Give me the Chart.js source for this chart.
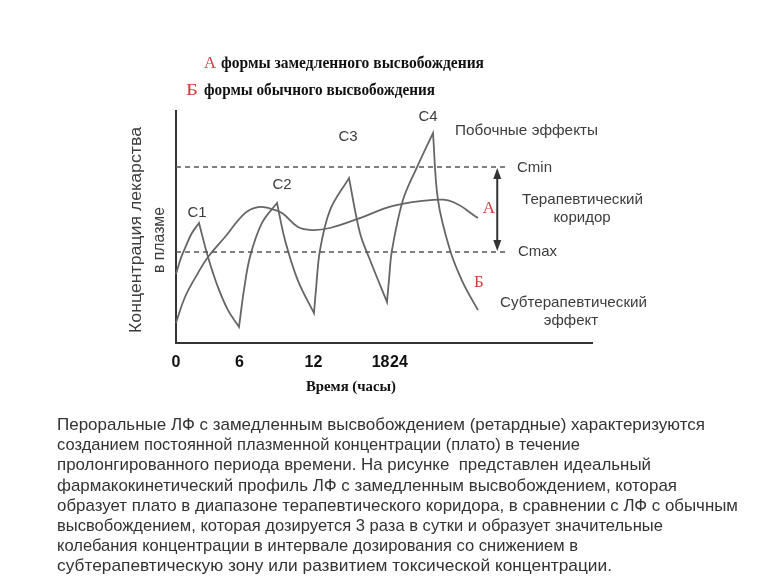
<!DOCTYPE html>
<html>
<head>
<meta charset="utf-8">
<script src="https://cdn.jsdelivr.net/npm/chart.js@4.4.0/dist/chart.umd.min.js"></script>
<style>
html, body { margin: 0; padding: 0; background: #fff; }
#wrap { position: relative; width: 768px; height: 576px; overflow: hidden; }
#chart { position: absolute; left: 0; top: 0; }
#note { position: absolute; left: 57px; top: 415px; font-family: "Liberation Sans Narrow", "Liberation Sans", sans-serif;
        font-size: 17px; line-height: 20.2px; color: #333; white-space: nowrap; }
#note span { display: inline-block; transform-origin: 0 50%; }
</style>
</head>
<body>
<div id="wrap">
  <canvas id="chart" width="768" height="576"></canvas>
  <div id="note">
    <div><span data-r="705">Пероральные ЛФ с замедленным высвобождением (ретардные) характеризуются</span></div>
    <div><span data-r="580">созданием постоянной плазменной концентрации (плато) в течение</span></div>
    <div><span data-r="651">пролонгированного периода времени. На рисунке&nbsp; представлен идеальный</span></div>
    <div><span data-r="677">фармакокинетический профиль ЛФ с замедленным высвобождением, которая</span></div>
    <div><span data-r="738">образует плато в диапазоне терапевтического коридора, в сравнении с ЛФ с обычным</span></div>
    <div><span data-r="663">высвобождением, которая дозируется 3 раза в сутки и образует значительные</span></div>
    <div><span data-r="578">колебания концентрации в интервале дозирования со снижением в</span></div>
    <div><span data-r="612">субтерапевтическую зону или развитием токсической концентрации.</span></div>
  </div>
</div>
<script>
// curve A: slow release form (time in hours, concentration in arbitrary units)
const hoursA = [0, 0.78, 1.9, 2.77, 4.24, 5.97, 7.1, 7.96, 9.17, 10.56, 11.77, 13.33, 15.92, 18.78, 22.24, 23.97, 26.13];
const concA  = [0.87, 2.0, 3.04, 3.74, 4.61, 5.65, 5.91, 5.87, 5.65, 5.04, 4.91, 5.0, 5.43, 5.96, 6.22, 6.13, 5.43];

// curve Б: regular release form, dosed every 6 hours
const hoursB = [0, 0.43, 0.78, 1.38, 1.99, 2.77, 3.63, 4.5, 5.45, 5.88, 6.4, 7.44, 8.74, 9.43, 10.56, 11.94,
                12.11, 12.46, 13.33, 14.97, 15.92, 16.79, 18.26, 18.43, 18.69, 19.64, 20.86, 22.24, 22.67, 23.71, 24.84, 26.13];
const concB  = [3.0, 3.7, 4.13, 4.78, 5.22, 3.74, 2.43, 1.43, 0.7, 2.3, 3.74, 5.22, 6.09, 4.48, 2.7, 1.3,
                2.3, 4.04, 5.78, 7.17, 4.78, 3.61, 1.78, 2.74, 4.04, 6.22, 7.65, 9.13, 6.22, 4.04, 2.61, 1.43];

const cMin = 7.65;
const cMax = 3.96;
const corridorEnd = 28.6;
const arrowHour = 27.8;

const tickHours = [0, 5.5, 11.9, 17.7, 19.3];
const tickLabels = ['0', '6', '12', '18', '24'];

// peaks and troughs of Б are doubled so the spline keeps a sharp corner there
function sawPoints(xs, ys) {
    const pts = [];
    xs.forEach((x, i) => {
        pts.push({ x: x, y: ys[i] });
        if (i > 0 && i < xs.length - 1 && (ys[i] - ys[i - 1]) * (ys[i + 1] - ys[i]) < 0) {
            pts.push({ x: x, y: ys[i] });
        }
    });
    return pts;
}

function fitText(ctx, text, left, right, cy, font, color) {
    ctx.font = font;
    ctx.fillStyle = color;
    ctx.textBaseline = 'middle';
    ctx.textAlign = 'left';
    const w = ctx.measureText(text).width;
    ctx.save();
    ctx.translate(left, cy);
    ctx.scale((right - left) / w, 1);
    ctx.fillText(text, 0, 0);
    ctx.restore();
}

function centerText(ctx, text, cx, cy, font, color) {
    ctx.font = font;
    ctx.fillStyle = color;
    ctx.textBaseline = 'middle';
    ctx.textAlign = 'center';
    ctx.fillText(text, cx, cy);
}

const RED = '#d23c3c';
const GREY = '#3c3c3c';
const SANS = '"Liberation Sans", Arial, sans-serif';
const SERIF = '"Liberation Serif", "Times New Roman", serif';

const decor = {
    id: 'decor',
    afterDraw(chart) {
        const ctx = chart.ctx;
        const xs = chart.scales.x, ys = chart.scales.y;

        // legend lines at the top
        fitText(ctx, 'А', 204, 216, 64, '17px ' + SERIF, RED);
        fitText(ctx, 'формы замедленного высвобождения', 221, 484, 64, 'bold 16px ' + SERIF, '#111');
        fitText(ctx, 'Б', 186, 198, 91, '17px ' + SERIF, RED);
        fitText(ctx, 'формы обычного высвобождения', 204, 435, 91, 'bold 16px ' + SERIF, '#111');

        // peak labels
        centerText(ctx, 'C1', 197, 213, '15px ' + SANS, GREY);
        centerText(ctx, 'C2', 282, 185, '15px ' + SANS, GREY);
        centerText(ctx, 'C3', 348, 137, '15px ' + SANS, GREY);
        centerText(ctx, 'C4', 428, 117, '15px ' + SANS, GREY);

        // right side notes
        fitText(ctx, 'Побочные эффекты', 455, 598, 131, '15px ' + SANS, GREY);
        fitText(ctx, 'Cmin', 517, 552, 168, '15px ' + SANS, GREY);
        fitText(ctx, 'Терапевтический', 522, 643, 200, '15px ' + SANS, GREY);
        centerText(ctx, 'коридор', 582, 218, '15px ' + SANS, GREY);
        fitText(ctx, 'Cmax', 518, 557, 252, '15px ' + SANS, GREY);
        fitText(ctx, 'Субтерапевтический', 500, 647, 303, '15px ' + SANS, GREY);
        centerText(ctx, 'эффект', 571, 321, '15px ' + SANS, GREY);
        centerText(ctx, 'А', 489, 209, '17px ' + SERIF, RED);
        centerText(ctx, 'Б', 479, 283, '17px ' + SERIF, RED);

        // axis titles
        fitText(ctx, 'Время (часы)', 306, 396, 387, 'bold 15px ' + SERIF, '#111');
        ctx.save();
        ctx.translate(137, 230);
        ctx.rotate(-Math.PI / 2);
        fitText(ctx, 'Концентрация лекарства', -103, 103, 0, '16px ' + SANS, GREY);
        ctx.restore();
        ctx.save();
        ctx.translate(160, 240);
        ctx.rotate(-Math.PI / 2);
        fitText(ctx, 'в плазме', -33, 33, 0, '16px ' + SANS, GREY);
        ctx.restore();

        // double arrow of the therapeutic corridor
        const ax = xs.getPixelForValue(arrowHour);
        const y1 = ys.getPixelForValue(cMin) + 1;
        const y2 = ys.getPixelForValue(cMax) - 1;
        ctx.save();
        ctx.strokeStyle = '#333';
        ctx.fillStyle = '#333';
        ctx.lineWidth = 2;
        ctx.beginPath();
        ctx.moveTo(ax, y1 + 6);
        ctx.lineTo(ax, y2 - 6);
        ctx.stroke();
        ctx.beginPath();
        ctx.moveTo(ax, y1); ctx.lineTo(ax - 4, y1 + 11); ctx.lineTo(ax + 4, y1 + 11); ctx.closePath();
        ctx.fill();
        ctx.beginPath();
        ctx.moveTo(ax, y2); ctx.lineTo(ax - 4, y2 - 11); ctx.lineTo(ax + 4, y2 - 11); ctx.closePath();
        ctx.fill();
        ctx.restore();
    }
};

const line = (pts, extra) => Object.assign({
    data: pts,
    borderColor: '#666',
    borderWidth: 1.8,
    pointRadius: 0,
    fill: false,
    tension: 0.4,
    clip: false
}, extra || {});

new Chart(document.getElementById('chart'), {
    type: 'line',
    data: {
        datasets: [
            line([{ x: 0, y: cMin }, { x: corridorEnd, y: cMin }], { borderColor: '#555', borderWidth: 1.5, borderDash: [5, 4], tension: 0 }),
            line([{ x: 0, y: cMax }, { x: corridorEnd, y: cMax }], { borderColor: '#555', borderWidth: 1.5, borderDash: [5, 4], tension: 0 }),
            line(hoursA.map((h, i) => ({ x: h, y: concA[i] }))),
            line(sawPoints(hoursB, concB), { tension: 0.35 })
        ]
    },
    options: {
        responsive: false,
        animation: false,
        layout: { padding: { left: 176, right: 176, top: 110.7, bottom: 193 } },
        plugins: { legend: { display: false }, tooltip: { enabled: false } },
        scales: {
            x: {
                type: 'linear',
                min: 0,
                max: 36,
                afterFit: s => { s.height = 40; },
                afterBuildTicks: s => { s.ticks = tickHours.map(v => ({ value: v })); },
                grid: { display: true, drawOnChartArea: false, drawTicks: false },
                border: { display: true, color: '#333', width: 2 },
                ticks: {
                    autoSkip: false,
                    maxRotation: 0,
                    padding: 10,
                    color: '#111',
                    font: { family: '"Liberation Sans", Arial, sans-serif', weight: 'bold', size: 16 },
                    callback: (v, i) => tickLabels[i]
                }
            },
            y: {
                min: 0,
                max: 10.1,
                afterFit: s => { s.width = 0; },
                grid: { display: false },
                border: { display: true, color: '#333', width: 2 },
                ticks: { display: false }
            }
        }
    },
    plugins: [decor]
});

// squeeze each caption line to the width it has in the picture
document.querySelectorAll('#note span').forEach(sp => {
    const w = sp.getBoundingClientRect().width;
    const target = Number(sp.dataset.r) - 57;
    sp.style.transform = 'scaleX(' + (target / w).toFixed(4) + ')';
});
</script>
</body>
</html>
